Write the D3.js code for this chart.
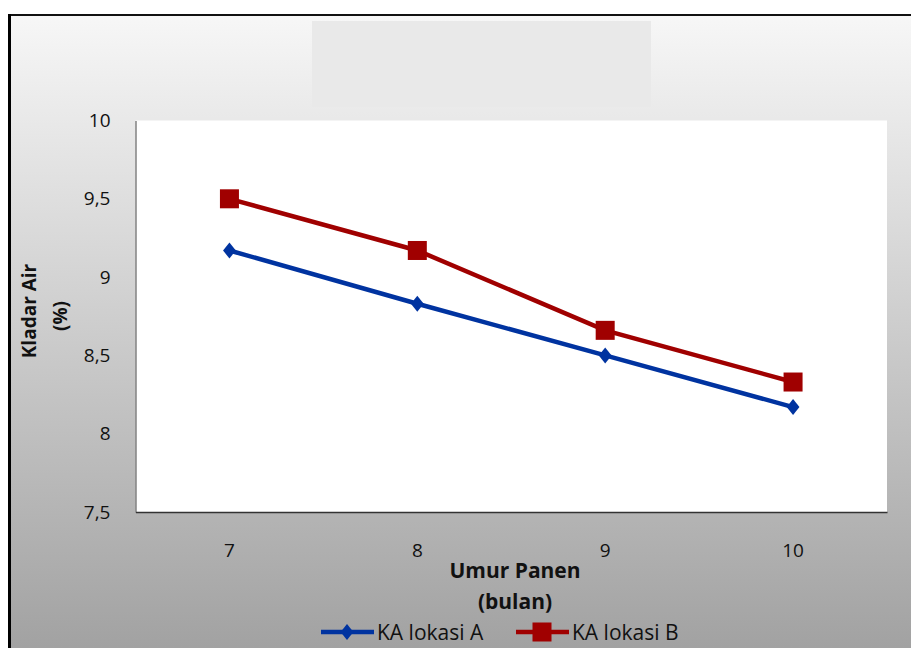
<!DOCTYPE html>
<html><head><meta charset="utf-8">
<script src="https://cdn.jsdelivr.net/npm/d3@7"></script>
<style>body{margin:0;background:#fff}svg{display:block}</style>
</head><body>
<script>
const categories = ["7", "8", "9", "10"];
const seriesA = [9.17, 8.83, 8.5, 8.17];
const seriesB = [9.5, 9.17, 8.66, 8.33];
const yTicks = [7.5, 8, 8.5, 9, 9.5, 10];
const seriesNames = ["KA lokasi A", "KA lokasi B"];

const W = 911, H = 648;
const svg = d3.select("body").append("svg").attr("width", W).attr("height", H);
const defs = svg.append("defs");
const g = defs.append("linearGradient").attr("id","bg").attr("x1",0).attr("y1",0).attr("x2",0).attr("y2",1);
g.append("stop").attr("offset","0%").attr("stop-color","#f7f7f7");
g.append("stop").attr("offset","100%").attr("stop-color","#a0a0a0");

svg.append("rect").attr("x",8).attr("y",14).attr("width",W).attr("height",H).attr("fill","url(#bg)");
svg.append("line").attr("x1",8).attr("x2",W).attr("y1",15).attr("y2",15).attr("stroke","#111").attr("stroke-width",2);
svg.append("line").attr("x1",9.5).attr("x2",9.5).attr("y1",14).attr("y2",H).attr("stroke","#000").attr("stroke-width",3);
svg.append("rect").attr("x",312).attr("y",21).attr("width",339).attr("height",86).attr("fill","#e9e9e9");

const L = 135.5, R = 887, T = 120.5, B = 512;
const font = "'Liberation Sans Narrow', 'Open Sans', sans-serif";
const x = d3.scaleBand().domain(categories).range([L, R]);
const y = d3.scaleLinear().domain([7.5, 10]).range([B, T]);

svg.append("rect").attr("x",L).attr("y",T).attr("width",R-L).attr("height",B-T).attr("fill","#fff");

const yAxis = svg.append("g").attr("transform",`translate(${L},0)`)
  .call(d3.axisLeft(y).tickValues(yTicks).tickSize(0).tickPadding(25).tickFormat(d => String(d).replace(".", ",")));
yAxis.select(".domain").attr("stroke","#444").attr("stroke-width",1);
yAxis.selectAll("text").attr("font-family",font).attr("font-size",19).attr("fill","#111");

const xAxis = svg.append("g").attr("transform",`translate(0,${B})`)
  .call(d3.axisBottom(x).tickSize(0).tickPadding(32));
xAxis.select(".domain").attr("stroke","#333").attr("stroke-width",1.5);
xAxis.selectAll("text").attr("font-family",font).attr("font-size",19).attr("fill","#111");

const cx = d => x(d) + x.bandwidth()/2;
const line = d3.line().x((d,i)=>cx(categories[i])).y(d=>y(d));

const colA = "#0033a0", colB = "#a00000";
svg.append("path").datum(seriesA).attr("d",line).attr("fill","none").attr("stroke",colA).attr("stroke-width",4.5);
svg.append("path").datum(seriesB).attr("d",line).attr("fill","none").attr("stroke",colB).attr("stroke-width",4.5);

const diamond = (px,py,s) => `M${px},${py-s} L${px+s*0.8},${py} L${px},${py+s} L${px-s*0.8},${py} Z`;
svg.selectAll(".mA").data(seriesA).enter().append("path")
  .attr("d",(d,i)=>diamond(cx(categories[i]), y(d), 8)).attr("fill",colA);
svg.selectAll(".mB").data(seriesB).enter().append("rect")
  .attr("x",(d,i)=>cx(categories[i])-9.5).attr("y",d=>y(d)-9.5).attr("width",19).attr("height",19).attr("fill",colB);

// axis titles
svg.append("text").attr("transform","translate(36,311) rotate(-90)").attr("text-anchor","middle")
  .attr("font-family",font).attr("font-weight","bold").attr("font-size",19).attr("fill","#111").text("Kladar Air");
svg.append("text").attr("transform","translate(67,316) rotate(-90)").attr("text-anchor","middle")
  .attr("font-family",font).attr("font-weight","bold").attr("font-size",19).attr("fill","#111").text("(%)");

svg.append("text").attr("x",515).attr("y",578).attr("text-anchor","middle")
  .attr("font-family",font).attr("font-weight","bold").attr("font-size",21).attr("fill","#111").text("Umur Panen");
svg.append("text").attr("x",515).attr("y",609).attr("text-anchor","middle")
  .attr("font-family",font).attr("font-weight","bold").attr("font-size",21).attr("fill","#111").text("(bulan)");

// legend
const leg = [{name:seriesNames[0], c:colA, x0:321, t:"d"},{name:seriesNames[1], c:colB, x0:516, t:"s"}];
const ly = 632;
leg.forEach(l => {
  svg.append("line").attr("x1",l.x0).attr("x2",l.x0+53).attr("y1",ly).attr("y2",ly).attr("stroke",l.c).attr("stroke-width",4.5);
  const mx = l.x0+26;
  if (l.t==="d") svg.append("path").attr("d",diamond(mx,ly,8)).attr("fill",l.c);
  else svg.append("rect").attr("x",mx-9.5).attr("y",ly-9.5).attr("width",19).attr("height",19).attr("fill",l.c);
  svg.append("text").attr("x",l.x0+56).attr("y",ly+8).attr("font-family",font).attr("font-size",21).attr("fill","#111").text(l.name);
});
</script>
</body></html>
